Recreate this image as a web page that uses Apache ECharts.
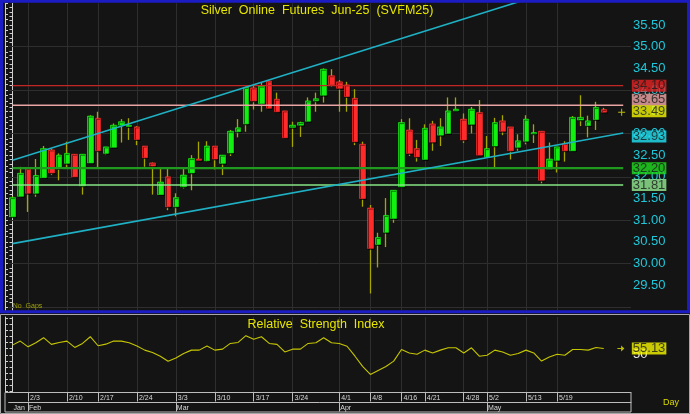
<!DOCTYPE html>
<html><head><meta charset="utf-8">
<script src="https://cdn.jsdelivr.net/npm/echarts@6/dist/echarts.min.js"></script>
<style>html,body{margin:0;padding:0;background:#141414;}#c{width:690px;height:414px;}</style>
</head><body><div id="c"></div>
<script>
// ---------------- DATA ----------------
const opens  = [31.08,31.55,32.19,31.62,31.98,32.62,32.19,32.31,32.52,31.79,
                32.32,33.35,32.54,32.68,33.19,33.16,33.15,32.71,32.32,31.59,
                32.00,31.31,31.77,32.09,32.41,32.37,32.71,32.31,32.55,33.04,
                33.22,34.05,33.69,34.21,33.79,33.52,33.14,33.19,33.28,33.75,
                33.88,34.33,34.19,34.12,33.81,32.75,31.28,30.44,30.72,31.04,
                31.77,33.08,32.65,32.40,33.22,32.96,33.00,33.52,33.33,33.21,
                33.48,32.45,32.71,33.29,33.15,32.68,32.82,32.99,33.05,32.18,
                32.38,32.77,32.60,33.31,33.18,33.32,33.55];
const closes = [31.52,32.08,31.62,32.03,32.65,32.09,32.50,32.54,32.00,32.52,
                33.40,32.60,32.69,33.19,33.27,33.19,32.86,32.44,32.25,31.88,
                31.31,31.52,32.04,32.42,32.38,32.71,32.41,32.50,33.05,33.13,
                34.06,33.75,34.09,33.58,33.50,32.90,33.19,33.25,33.75,33.80,
                34.48,34.12,34.04,33.85,32.81,31.50,30.35,30.60,31.11,31.69,
                33.25,32.54,32.46,33.12,32.80,33.15,33.52,33.56,32.85,33.56,
                32.50,32.65,33.25,33.05,32.60,32.83,33.33,33.02,31.92,32.41,
                32.69,32.60,33.37,33.37,33.29,33.60,33.49];
const lows   = [31.07,31.53,31.19,31.54,31.98,32.04,31.92,32.19,32.00,31.59,
                32.32,32.21,32.50,32.68,32.79,32.85,32.73,32.23,31.59,31.59,
                31.23,31.09,31.73,31.69,32.38,32.34,32.17,32.04,32.48,32.91,
                33.04,33.55,33.50,33.58,33.50,32.90,32.69,32.92,33.28,33.50,
                33.71,34.08,33.50,33.50,32.73,31.31,29.31,29.91,30.38,30.94,
                31.77,32.48,32.35,32.40,32.60,32.71,33.00,33.52,32.78,33.00,
                32.50,32.45,32.22,32.96,32.40,32.60,32.75,32.78,31.85,32.18,
                32.10,32.35,32.60,33.17,32.91,33.08,33.47];
const highs  = [31.55,32.23,32.22,32.41,32.71,32.65,32.54,32.81,32.52,32.52,
                33.42,33.50,32.69,33.23,33.33,33.35,33.17,32.71,32.33,32.19,
                32.19,31.62,32.19,32.50,32.81,32.82,32.71,32.50,33.08,33.33,
                34.08,34.10,34.17,34.23,33.94,33.52,33.27,33.27,33.83,33.94,
                34.50,34.48,34.23,34.19,34.02,32.81,31.35,30.71,31.51,31.69,
                33.33,33.35,32.85,33.21,33.29,33.35,33.83,33.83,33.46,33.61,
                33.77,32.94,33.36,33.42,33.15,32.98,33.42,33.21,33.05,32.79,
                32.69,32.82,33.40,33.88,33.41,33.73,33.59];
const rsi    = [57.9,61.2,56.5,59.8,64.0,58.5,60.1,61.2,56.0,59.3,
                64.8,57.4,58.7,61.2,61.2,59.8,57.1,53.8,51.8,48.8,
                44.6,47.4,51.0,53.8,53.8,57.1,53.8,54.6,59.3,60.1,
                65.7,62.7,64.8,59.3,58.5,52.3,54.6,54.6,59.3,59.8,
                64.0,59.8,59.3,57.0,49.0,40.5,33.8,37.1,40.4,44.8,
                54.3,51.5,50.4,53.8,51.5,53.8,55.7,55.7,51.5,55.7,
                48.8,49.6,53.8,52.3,49.6,51.0,53.8,51.5,44.8,48.2,
                50.4,49.6,54.3,54.3,53.8,56.0,55.13];
const weekIdx    = [2,7,11,16,21,26,31,36,42,46,50,53,58,61,66,70];
const weekLabels = ['2/3','2/10','2/17','2/24','3/3','3/10','3/17','3/24','4/1','4/8','4/16','4/21','4/28','5/2','5/13','5/19'];
const monthIdx    = [0,2,21,42,61];
const monthLabels = ['Jan','Feb','Mar','Apr','May'];
const priceLabels = [29.5,30.0,30.5,31.0,31.5,32.0,32.5,33.0,33.5,34.0,34.5,35.0,35.5];
const gridPrices  = [29,30,31,32,33,34,35];
const levelValues = [34.10,33.65,32.20,31.81];
const lastPrice = 33.49;
const upperTrend = [[0,32.38],[78.5,36.79]];
const lowerTrend = [[0,30.46],[78.5,33.01]];
const lowerTrendLast = 32.93;
const rsiLast = 55.13;
const rsiLabels = [50];
const SLOTS = 80;

// ---------------- BUILD ----------------
const cats = Array.from({length: SLOTS}, (_, i) => String(i));
const ohlc = opens.map((o, i) => [o, closes[i], lows[i], highs[i]]);
const bodies = opens.map((o, i) => [o, closes[i], Math.min(o, closes[i]), Math.max(o, closes[i])]);
const rightTicks = []; for (let k = 290; k <= 359; k++) rightTicks.push(k / 10);
const leftTicks = []; for (let k = 0; k <= 56; k++) leftTicks.push(29 + k * 0.125);
const rsiTicks = []; for (let k = 20; k <= 80; k += 5) rsiTicks.push(k);

const FONT = '"Liberation Sans", Arial, sans-serif';
const levelColors = ['#c42626', '#eaa4a4', '#1f9a1f', '#86e486'];
const levelWidths = [1.2, 1.4, 2.2, 1.4];
const boxBg = ['#e62222', '#f2a8a8', '#1fdc1f', '#94ec94'];

const levelSeries = levelValues.map((v, k) => ({
  type: 'line', xAxisIndex: 1, yAxisIndex: 0, data: [[0, v], [78.5, v]],
  symbol: 'none', silent: true, z: 4, animation: false,
  lineStyle: {color: levelColors[k], width: levelWidths[k]}
}));

const boxLabel = (bg, dy) => ({
  show: true, position: 'right', distance: 8.6, offset: [0, dy || 0],
  formatter: p => p.value[1].toFixed(2),
  backgroundColor: bg, color: '#1a1a1a', fontSize: 13, fontFamily: FONT,
  lineHeight: 12, padding: [0, 1, 0, 1]
});

const boxData = [
  {value: [78.5, levelValues[0]], label: boxLabel(boxBg[0], 0)},
  {value: [78.5, levelValues[1]], label: boxLabel(boxBg[1], -5.5)},
  {value: [78.5, lastPrice], label: boxLabel('#f6f600', -0.8)},
  {value: [78.5, lowerTrendLast], label: boxLabel('#22e4f4', 0)},
  {value: [78.5, levelValues[2]], label: boxLabel(boxBg[2], 0)},
  {value: [78.5, levelValues[3]], label: boxLabel(boxBg[3], 0)}
];

const gridLine = {color: '#2e2e2e', width: 1, type: 'solid'};

const option = {
  backgroundColor: '#141414',
  animation: false,
  grid: [
    {left: 8.6, width: 622.4, top: 3.3, height: 307.1},
    {left: 8.6, width: 622.4, top: 317, height: 75.5}
  ],
  xAxis: [
    {type: 'category', gridIndex: 0, data: cats, boundaryGap: true, show: false},
    {type: 'value', gridIndex: 0, min: -0.5, max: SLOTS - 0.5, show: false},
    {type: 'category', gridIndex: 1, data: cats, boundaryGap: true, position: 'bottom',
      axisLine: {show: true, lineStyle: {color: '#bdbdbd', width: 1}},
      axisTick: {show: true, interval: (i) => weekIdx.includes(i), alignWithLabel: true, length: 9, lineStyle: {color: '#bdbdbd'}},
      axisLabel: {show: true, interval: (i) => weekIdx.includes(i), formatter: (v, i) => weekLabels[weekIdx.indexOf(Number(v))] || '',
        align: 'left', color: '#d8d8d8', fontSize: 7, fontFamily: FONT, margin: 2, padding: [0, 0, 0, 2]},
      splitLine: {show: false}},
    {type: 'category', gridIndex: 1, data: cats, boundaryGap: true, position: 'bottom', offset: 10,
      axisLine: {show: true, lineStyle: {color: '#bdbdbd', width: 1}},
      axisTick: {show: true, interval: (i) => monthIdx.includes(i) && i > 0, alignWithLabel: true, length: 9, lineStyle: {color: '#bdbdbd'}},
      axisLabel: {show: true, interval: (i) => monthIdx.includes(i), formatter: (v) => monthLabels[monthIdx.indexOf(Number(v))] || '',
        align: 'left', color: '#d8d8d8', fontSize: 7, fontFamily: FONT, margin: 2, padding: [0, 0, 0, 1]},
      splitLine: {show: false}},
    {type: 'value', gridIndex: 1, min: -0.5, max: SLOTS - 0.5, show: false}
  ],
  yAxis: [
    {type: 'value', gridIndex: 0, position: 'right', min: 28.92, max: 36.0, scale: true, z: 0,
      axisLine: {show: true, lineStyle: {color: '#cfcfcf', width: 1}},
      axisTick: {show: true, inside: true, length: 3, customValues: rightTicks, lineStyle: {color: '#cfcfcf'}},
      axisLabel: {show: true, customValues: priceLabels, formatter: v => Number(v).toFixed(2),
        color: '#1ec8da', fontSize: 13, fontFamily: FONT, margin: 2},
      splitLine: {show: false}},
    {type: 'value', gridIndex: 0, position: 'left', offset: 3.6, min: 28.92, max: 36.0, scale: true,
      axisLine: {show: true, lineStyle: {color: '#cfcfcf', width: 1}},
      axisTick: {show: true, inside: true, length: 3, customValues: leftTicks, lineStyle: {color: '#cfcfcf'}},
      axisLabel: {show: false}, splitLine: {show: false}},
    {type: 'value', gridIndex: 1, position: 'right', min: 19, max: 81, z: 0,
      axisLine: {show: true, lineStyle: {color: '#cfcfcf', width: 1}},
      axisTick: {show: true, inside: true, length: 3, customValues: rsiTicks, lineStyle: {color: '#cfcfcf'}},
      axisLabel: {show: true, customValues: rsiLabels, color: '#e6e6e6', fontSize: 13, fontFamily: FONT, margin: 2},
      splitLine: {show: false}},
    {type: 'value', gridIndex: 1, position: 'left', offset: 3.6, min: 19, max: 81,
      axisLine: {show: true, lineStyle: {color: '#cfcfcf', width: 1}},
      axisTick: {show: true, inside: true, length: 3, customValues: rsiTicks, lineStyle: {color: '#cfcfcf'}},
      axisLabel: {show: false}, splitLine: {show: false}}
  ],
  series: [
    {type: 'line', xAxisIndex: 0, yAxisIndex: 0, data: [], silent: true,
      markLine: {silent: true, symbol: 'none', z: 1, label: {show: false}, lineStyle: gridLine, animation: false,
        data: gridPrices.map(v => ({yAxis: v})).concat(weekIdx.map(i => ({xAxis: i})))}},
    {type: 'line', xAxisIndex: 2, yAxisIndex: 2, data: [], silent: true,
      markLine: {silent: true, symbol: 'none', z: 1, label: {show: false}, lineStyle: gridLine, animation: false,
        data: weekIdx.map(i => ({xAxis: i}))}},
    {type: 'candlestick', name: 'wick', xAxisIndex: 0, yAxisIndex: 0, data: ohlc, barWidth: 1, z: 2, silent: true,
      itemStyle: {color: '#a6a600', color0: '#a6a600', borderColor: '#a6a600', borderColor0: '#a6a600', borderWidth: 1.3}},
    {type: 'candlestick', name: 'body', xAxisIndex: 0, yAxisIndex: 0, data: bodies, barWidth: 6, z: 3, silent: true,
      itemStyle: {color: '#12f012', color0: '#ff2b2b', borderColor: '#12f012', borderColor0: '#ff2b2b', borderWidth: 0.6,
        shadowColor: 'rgba(0,0,0,0.85)', shadowOffsetX: 1, shadowOffsetY: 1, shadowBlur: 0}},
    ...levelSeries,
    {type: 'line', xAxisIndex: 1, yAxisIndex: 0, data: upperTrend, symbol: 'none', silent: true, z: 4, clip: true,
      lineStyle: {color: '#1fb0c4', width: 1.6}},
    {type: 'line', xAxisIndex: 1, yAxisIndex: 0, data: lowerTrend, symbol: 'none', silent: true, z: 4, clip: true,
      lineStyle: {color: '#1fb0c4', width: 1.6}},
    {type: 'scatter', xAxisIndex: 1, yAxisIndex: 0, data: [[78.3, lastPrice]], silent: true, z: 5,
      symbol: 'path://M0 3h7v1H0z M3 0h1v7H3z', symbolSize: 7, itemStyle: {color: '#e6e600'}},
    {type: 'scatter', xAxisIndex: 1, yAxisIndex: 0, data: boxData, symbolSize: 0, silent: true, z: 6, zlevel: 1},
    {type: 'line', xAxisIndex: 2, yAxisIndex: 2, data: rsi, symbol: 'none', silent: true, z: 3,
      lineStyle: {color: '#c6c600', width: 1.1}},
    {type: 'scatter', xAxisIndex: 4, yAxisIndex: 2, data: [[78.2, rsiLast]], silent: true, z: 5,
      symbol: 'path://M0 3h5v1H0z M4 0.5l3.5 3-3.5 3z', symbolSize: [7, 6], itemStyle: {color: '#e6e600'}},
    {type: 'scatter', xAxisIndex: 4, yAxisIndex: 2, data: [{value: [78.5, rsiLast], label: boxLabel('#f6f600', 0)}],
      symbolSize: 0, silent: true, z: 6, zlevel: 1}
  ],
  graphic: [
    {type: 'rect', silent: true, z: 50, shape: {x: 1.5, y: 1.2, width: 687, height: 310.6},
      style: {fill: 'none', stroke: '#1c1cc4', lineWidth: 3}},
    {type: 'rect', silent: true, z: 50, shape: {x: 0.5, y: 314.5, width: 689, height: 99},
      style: {fill: 'none', stroke: '#a8a8a8', lineWidth: 1}},
    {type: 'rect', silent: true, z: 50, shape: {x: 5, y: 392.5, width: 626, height: 19.5},
      style: {fill: 'none', stroke: '#bdbdbd', lineWidth: 1}},
    {type: 'text', silent: true, z: 50, x: 317, y: 10.5,
      style: {text: 'Silver  Online  Futures  Jun-25  (SVFM25)', fill: '#e6e600', fontSize: 12.5, fontFamily: FONT, align: 'center', verticalAlign: 'middle'}},
    {type: 'text', silent: true, z: 50, x: 316, y: 324.5,
      style: {text: 'Relative  Strength  Index', fill: '#e6e600', fontSize: 12.5, fontFamily: FONT, align: 'center', verticalAlign: 'middle'}},
    {type: 'text', silent: true, z: 50, x: 12.7, y: 306.5,
      style: {text: 'No  Gaps', fill: '#a2a200', fontSize: 7, fontFamily: FONT, align: 'left', verticalAlign: 'middle'}},
    {type: 'text', silent: true, z: 50, x: 663, y: 403,
      style: {text: 'Day', fill: '#dada00', fontSize: 9, fontFamily: FONT, align: 'left', verticalAlign: 'middle'}}
  ]
};

const chart = echarts.init(document.getElementById('c'), null, {renderer: 'canvas'});
chart.setOption(option);
</script>
</body></html>
